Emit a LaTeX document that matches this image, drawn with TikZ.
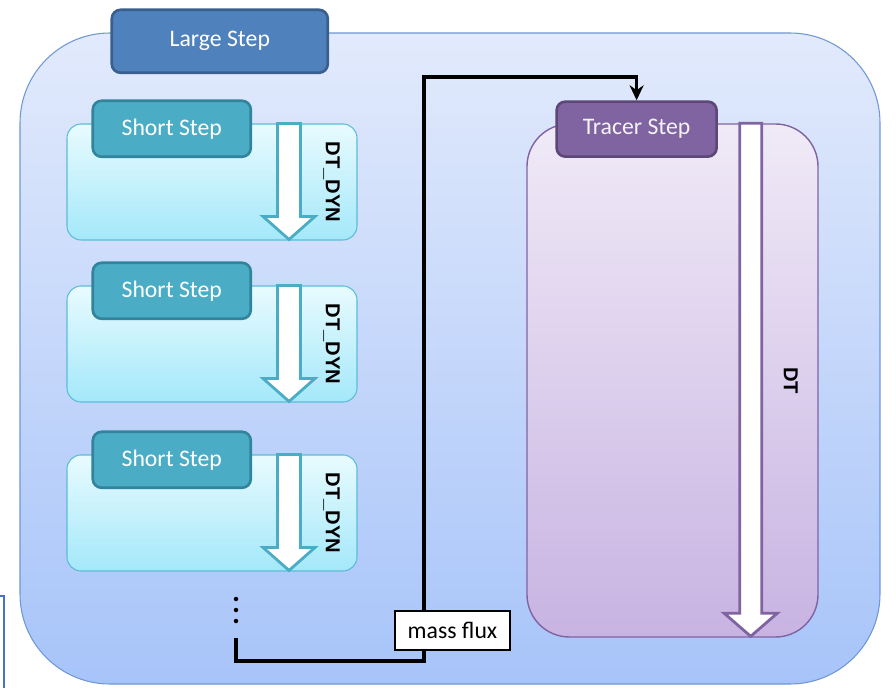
\documentclass[tikz,border=0pt]{standalone}
\usepackage{fontspec}
\setmainfont{Carlito}
\newfontfamily\dtfont{Liberation Sans}
\usetikzlibrary{positioning, calc, arrows.meta}

\definecolor{outertop}{HTML}{E2EAFC}
\definecolor{outerbottom}{HTML}{A7C4F9}
\definecolor{outeredge}{HTML}{6F97D6}
\definecolor{largefill}{HTML}{4F81BD}
\definecolor{largeedge}{HTML}{3A5F8C}
\definecolor{dyntop}{HTML}{E8FBFE}
\definecolor{dynbottom}{HTML}{A4E8FA}
\definecolor{dynedge}{HTML}{5BBCD6}
\definecolor{shortfill}{HTML}{4BACC6}
\definecolor{shortedge}{HTML}{31849B}
\definecolor{tracertop}{HTML}{F0EAF7}
\definecolor{tracerbottom}{HTML}{C8B3E2}
\definecolor{traceredge}{HTML}{8064A2}
\definecolor{tracerlabeledge}{HTML}{5C4776}
\definecolor{strayblue}{HTML}{4472C4}

\begin{document}
\begin{tikzpicture}[
    labelbox/.style={draw, line width=1.5pt, rounded corners=5pt, text=white, inner sep=0pt,
      font=\fontsize{13.5}{16}\selectfont},
    dynbox/.style={draw=dynedge, line width=0.6pt, rounded corners=8pt, top color=dyntop,
      bottom color=dynbottom, minimum width=5.8cm, minimum height=2.32cm},
    steparrow/.style={fill=white, line width=1.6pt, line join=miter},
    dtlabel/.style={rotate=-90, font=\dtfont\bfseries\fontsize{11.5}{13}\selectfont},
    flowline/.style={line width=1.8pt},
    >={Stealth[length=0.3cm, width=0.28cm]}
  ]
    \useasboundingbox (0,0) rectangle (17.92,13.76);

    % large step frame
    \node[draw=outeredge, line width=0.6pt, rounded corners=1.8cm, top color=outertop,
      bottom color=outerbottom, minimum width=17.2cm, minimum height=13.02cm] (large) at (9.0,6.59) {};
    \node[labelbox, fill=largefill, draw=largeedge, minimum width=4.32cm, minimum height=1.26cm,
      anchor=north west] (largelabel) at ([xshift=1.82cm, yshift=0.48cm]large.north west) {Large Step};

    % short steps
    \foreach \i/\y in {1/10.12, 2/6.88, 3/3.50} {
      \node[dynbox] (dyn\i) at (4.24,\y) {};
      \node[labelbox, fill=shortfill, draw=shortedge, minimum width=3.16cm, minimum height=1.12cm,
        anchor=north west] (short\i) at ([xshift=0.5cm, yshift=0.48cm]dyn\i.north west) {Short Step};
      \draw[steparrow, draw=shortfill] ([xshift=-1.60cm]dyn\i.north east) -- ++(0,-1.86)
        -- ++(-0.29,0) -- ++(0.52,-0.46) -- ++(0.52,0.46) -- ++(-0.29,0) -- ++(0,1.86) -- cycle;
      \node[dtlabel] (dt\i) at ([xshift=-0.52cm]dyn\i.east) {DT\_DYN};
    }
    \foreach \y in {1.78,1.56,1.34}
      \fill (4.72,\y) circle (0.045);

    % tracer step
    \node[draw=traceredge, line width=0.8pt, rounded corners=0.85cm, top color=tracertop,
      bottom color=tracerbottom, minimum width=5.82cm, minimum height=10.26cm] (tracer) at (13.45,6.15) {};
    \node[labelbox, fill=traceredge, draw=tracerlabeledge, minimum width=3.2cm, minimum height=1.1cm,
      anchor=north west, text=white!92!traceredge] (tracerlabel) at ([xshift=0.58cm, yshift=0.46cm]tracer.north west) {Tracer Step};
    \draw[steparrow, draw=traceredge] ([xshift=-1.58cm]tracer.north east) -- ++(0,-9.80)
      -- ++(-0.31,0) -- ++(0.53,-0.46) -- ++(0.53,0.46) -- ++(-0.31,0) -- ++(0,9.80) -- cycle;
    \node[dtlabel] (dt) at ([xshift=-0.56cm]tracer.east) {DT};

    % mass flux
    \coordinate (fluxstart) at (4.72,1.00);
    \coordinate (fluxcorner) at (8.48,0.54);
    \coordinate (fluxtop) at (8.48,12.22);
    \draw[flowline, ->] (fluxstart) |- (fluxcorner) -- (fluxtop) -| (tracerlabel.north);
    \node[draw, line width=1.5pt, fill=white, minimum width=2.3cm, minimum height=0.78cm, inner sep=0pt,
      font=\fontsize{13.5}{16}\selectfont] (flux) at (9.05,1.15) {mass flux};

    \draw[strayblue, line width=1pt] (0,1.84) -- (0.08,1.84) -- (0.08,0);
  \end{tikzpicture}
\end{document}
